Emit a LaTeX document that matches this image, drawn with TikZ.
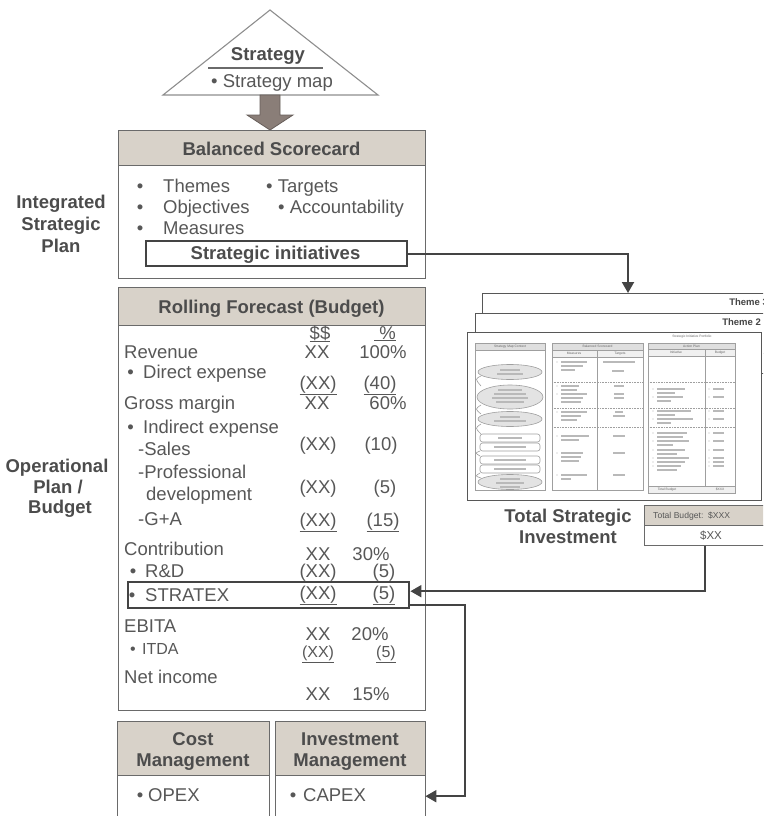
\documentclass[tikz,border=0pt]{standalone}
\usepackage{fontspec}
\setmainfont{Liberation Sans}
\usetikzlibrary{arrows.meta,calc}
\definecolor{tg}{HTML}{575757}
\definecolor{tgb}{HTML}{4C4C4C}
\definecolor{hf}{HTML}{D8D2C9}
\definecolor{bc}{HTML}{6A6A6A}
\definecolor{dk}{HTML}{444444}
\definecolor{ar}{HTML}{8A7E78}
\definecolor{lg}{HTML}{8E8E8E}
\newcommand\txtbar[3]{\draw[tbar] (#1,#2) -- ++(#3,0);}
\begin{document}
\begin{tikzpicture}[x=1pt,y=-1pt,
  t/.style={inner sep=0,text=tg,font=\fontsize{18.5}{21}\selectfont},
  tb/.style={inner sep=0,text=tgb,font=\fontsize{18.5}{21}\selectfont\bfseries},
  ts/.style={inner sep=0,text=tg,font=\fontsize{16}{18}\selectfont},
  box/.style={draw=bc,line width=1.3pt,rectangle,inner sep=0,anchor=north west},
  hbox/.style={box,fill=hf},
  sheet/.style={draw=dk!90,line width=1.3pt,fill=white,rectangle,inner sep=0,anchor=north west},
  thickbox/.style={draw=dk,line width=2.4pt,rectangle,inner sep=0,anchor=north west},
  conn/.style={draw=dk,line width=2pt},
  tip/.style={-{Triangle[length=11pt,width=12pt]}},
  pl/.style={draw=gray!75,line width=0.6pt},
  tiny/.style={inner sep=0,text=gray!80!black,font=\fontsize{3.3}{3.6}\selectfont},
  tbar/.style={draw=gray!55,line width=1.1pt},
]
\useasboundingbox (0,0) rectangle (763,816);
\clip (0,0) rectangle (763,816);

% ---------------- Strategy triangle
\draw[draw=lg,line width=1.1pt,fill=white] (163,95) -- (270,10) -- (378,95) -- cycle;
\coordinate (tribase) at (270,95);
\node[tb,anchor=base] (strat) at (268,60) {Strategy};
\draw[bc,line width=1pt] (208,68) -- (323,68);
\node[t,anchor=base] (smap) at (272,87) {• Strategy map};
\draw[fill=ar,draw=ar!75!black,line width=0.8pt]
  (260,95) -- (280,95) -- (280,115) -- (293,115) -- (270,130) -- (247,115) -- (260,115) -- cycle;

% ---------------- Balanced Scorecard
\node[box,minimum width=307,minimum height=148] (bsc) at (118,130) {};
\node[hbox,minimum width=307,minimum height=35] (bsch) at (118,130) {};
\node[tb,anchor=base] at (271.5,155) {Balanced Scorecard};
\node[t,anchor=base] at (140,192) {•};
\node[t,anchor=base west] at (163,192) {Themes};
\node[t,anchor=base] at (140,213) {•};
\node[t,anchor=base west] at (163,213) {Objectives};
\node[t,anchor=base] at (140,234) {•};
\node[t,anchor=base west] at (163,234) {Measures};
\node[t,anchor=base west] at (266,192) {• Targets};
\node[t,anchor=base west] at (278,213) {• Accountability};
\node[thickbox,minimum width=261,minimum height=25] (si) at (145,240) {};
\node[tb,anchor=base] at (275.5,259) {Strategic initiatives};

\node[tb,anchor=base] at (61,208) {Integrated};
\node[tb,anchor=base] at (61,230) {Strategic};
\node[tb,anchor=base] at (61,252) {Plan};

% ---------------- Rolling Forecast
\node[box,minimum width=307,minimum height=423] (rf) at (118,287) {};
\node[hbox,minimum width=307,minimum height=38] (rfh) at (118,287) {};
\node[tb,anchor=base] at (271.5,313) {Rolling Forecast (Budget)};

\node[tb,anchor=base] at (57,472) {Operational};
\node[tb,anchor=base] at (58,493) {Plan /};
\node[tb,anchor=base] at (60,513) {Budget};

\node[t,anchor=base] at (320,339) {\underline{\$\$}};
\node[t,anchor=base] at (385,339) {\underline{\ \%}};

\node[t,anchor=base west] at (124,358) {Revenue};
\node[t,anchor=base] at (317,358) {XX};
\node[t,anchor=base] at (383,358) {100\%};

\node[t,anchor=base] at (130.5,378) {•};
\node[t,anchor=base west] at (143,378) {Direct expense};
\node[t,anchor=base] at (318,389) {\underline{(XX)}};
\node[t,anchor=base] at (380,389) {\underline{(40)}};

\node[t,anchor=base west] at (124,409) {Gross margin};
\node[t,anchor=base] at (317,409) {XX};
\node[t,anchor=base] at (388,409) {60\%};

\node[t,anchor=base] at (130.5,433) {•};
\node[t,anchor=base west] at (143,433) {Indirect expense};
\node[t,anchor=base west] at (138,455) {-Sales};
\node[t,anchor=base] at (318,450) {(XX)};
\node[t,anchor=base] at (381,450) {(10)};

\node[t,anchor=base west] at (138,478) {-Professional};
\node[t,anchor=base west] at (146,500) {development};
\node[t,anchor=base] at (318,493) {(XX)};
\node[t,anchor=base] at (385,493) {(5)};

\node[t,anchor=base west] at (138,525) {-G+A};
\node[t,anchor=base] at (318,526) {\underline{(XX)}};
\node[t,anchor=base] at (383,526) {\underline{(15)}};

\node[t,anchor=base west] at (124,555) {Contribution};
\node[t,anchor=base] at (318,560) {XX};
\node[t,anchor=base] at (371,560) {30\%};

\node[t,anchor=base] at (133,577) {•};
\node[t,anchor=base west] at (145,577) {R\&D};
\node[t,anchor=base] at (318,577) {(XX)};
\node[t,anchor=base] at (384,577) {(5)};

\node[thickbox,minimum width=281,minimum height=26] (sbox) at (127,581) {};
\node[t,anchor=base] at (132,601) {•};
\node[t,anchor=base west] at (145,601) {STRATEX};
\node[t,anchor=base] at (318,599) {\underline{(XX)}};
\node[t,anchor=base] at (384,599) {\underline{(5)}};

\node[t,anchor=base west] at (124,632) {EBITA};
\node[t,anchor=base] at (318,640) {XX};
\node[t,anchor=base] at (370,640) {20\%};

\node[ts,anchor=base] at (133,654) {•};
\node[ts,anchor=base west] at (142,654) {ITDA};
\node[ts,anchor=base] at (318,657) {\underline{(XX)}};
\node[ts,anchor=base] at (386,657) {\underline{(5)}};

\node[t,anchor=base west] at (124,683) {Net income};
\node[t,anchor=base] at (318,700) {XX};
\node[t,anchor=base] at (371,700) {15\%};

% ---------------- Cost / Investment management
\node[box,minimum width=152,minimum height=120] (cm) at (117,721) {};
\node[hbox,minimum width=152,minimum height=54] (cmh) at (117,721) {};
\node[tb,anchor=base] at (193,745) {Cost};
\node[tb,anchor=base] at (193,766) {Management};
\node[t,anchor=base] at (140,801) {•};
\node[t,anchor=base west] at (148,801) {OPEX};

\node[box,minimum width=150,minimum height=120] (im) at (275,721) {};
\node[hbox,minimum width=150,minimum height=54] (imh) at (275,721) {};
\node[tb,anchor=base] at (350,745) {Investment};
\node[tb,anchor=base] at (350,766) {Management};
\node[t,anchor=base] at (293,801) {•};
\node[t,anchor=base west] at (303,801) {CAPEX};
\node[inner sep=0,minimum width=150,minimum height=42,anchor=north west] (invb) at (275,775) {};

% ---------------- Theme sheets
\node[sheet,minimum width=330,minimum height=60] (th3) at (482,293) {};
\node[inner sep=0,text=dk,font=\fontsize{9.5}{10}\selectfont\bfseries,anchor=base east] at (768,305) {Theme 3};
\node[sheet,minimum width=330,minimum height=60] (th2) at (475,313) {};
\node[inner sep=0,text=dk,font=\fontsize{9.5}{10}\selectfont\bfseries,anchor=base east] at (761,325) {Theme 2};
\node[sheet,minimum width=294,minimum height=168] (th1) at (467,332) {};

% panel 1: strategy map context
\draw[pl] (475,343) rectangle (545,490);
\draw[pl,fill=gray!25] (475,343) rectangle (545,350);
\node[tiny] at (510,346.5) {Strategy Map Context};
\draw[pl,fill=gray!22] (510,372) ellipse [x radius=32,y radius=7.5];
\txtbar{500}{370}{20}\txtbar{497}{374}{26}
\draw[pl,fill=gray!22] (510,397) ellipse [x radius=33,y radius=12];
\txtbar{498}{390}{24}\txtbar{494}{394}{32}\txtbar{492}{398}{36}\txtbar{496}{402}{28}
\draw[pl,fill=gray!22] (510,419) ellipse [x radius=32,y radius=7.5];
\txtbar{500}{417}{20}\txtbar{494}{421}{32}
\draw[pl,rounded corners=2.5] (480,434) rectangle (540,442);
\txtbar{498}{438}{24}
\draw[pl,rounded corners=2.5] (480,443) rectangle (540,451);
\txtbar{494}{447}{32}
\draw[pl,rounded corners=2.5] (480,456) rectangle (540,464);
\txtbar{494}{460}{32}
\draw[pl,rounded corners=2.5] (480,465) rectangle (540,473);
\txtbar{494}{469}{32}
\draw[pl,fill=gray!22] (510,482) ellipse [x radius=32,y radius=7.5];
\txtbar{500}{479}{20}\txtbar{496}{483}{28}\txtbar{500}{487}{20}
\draw[pl] (481,376) .. controls (475,379) .. (481,386);
\draw[pl] (481,405) .. controls (475,409) .. (481,414);
\draw[pl] (481,424) .. controls (475,428) .. (481,434);
\draw[pl] (480,451) .. controls (475,453) .. (480,456);
\draw[pl] (480,473) .. controls (475,476) .. (481,478);

% panel 2: balanced scorecard
\draw[pl] (552,343) rectangle (643,490);
\draw[pl,fill=gray!25] (552,343) rectangle (643,350);
\node[tiny] at (597.5,346.5) {Balanced Scorecard};
\draw[pl,fill=gray!12] (552,350) rectangle (643,357);
\node[tiny] at (574,353.5) {Measures};
\node[tiny] at (620,353.5) {Targets};
\draw[pl] (597,350) -- (597,490);
\draw[pl,densely dotted] (552,382) -- (643,382);
\draw[pl,densely dotted] (552,408) -- (643,408);
\draw[pl,densely dotted] (552,427) -- (643,427);
\foreach \y in {362,386,394,412,436,453,475} {\fill[gray!60] (557,\y) circle (0.7);}
\foreach \y/\l in {362/26,366/22,370/14,386/18,390/16,394/26,398/22,402/20,412/26,416/20,420/16,436/28,440/18,453/22,457/20,461/18,475/26,479/10}
  {\txtbar{561}{\y}{\l}}
\txtbar{603}{362}{32}\txtbar{612}{371}{12}
\txtbar{614}{386}{10}\txtbar{614}{394}{10}\txtbar{614}{398}{10}
\txtbar{615}{412}{8}\txtbar{613}{416}{12}
\txtbar{613}{436}{12}\txtbar{613}{453}{12}\txtbar{613}{475}{12}

% panel 3: strategic initiative portfolio
\node[tiny] at (692,337) {Strategic Initiative Portfolio};
\draw[pl] (648,343) rectangle (735,493);
\draw[pl,fill=gray!25] (648,343) rectangle (735,349);
\node[tiny] at (691.5,346) {Action Plan};
\draw[pl,fill=gray!12] (648,349) rectangle (735,356);
\node[tiny] at (676,352.5) {Initiative};
\draw[pl] (705,349) -- (705,493);
\node[tiny] at (720,352.5) {Budget};
\draw[pl,densely dotted] (648,382) -- (735,382);
\draw[pl,densely dotted] (648,408) -- (735,408);
\draw[pl,densely dotted] (648,427) -- (735,427);
\draw[pl,fill=gray!12] (648,486) rectangle (735,493);
\node[tiny] at (667,489.5) {Total Budget};
\node[tiny] at (720,489.5) {\$XXX};
\foreach \y in {389,397,411,419,433,441,450,458,462,466} {\fill[gray!60] (653,\y) circle (0.7); \fill[gray!60] (709,\y) circle (0.7);}
\foreach \y/\l in {389/28,393/18,397/26,401/14,411/34,415/18,419/36,423/14,433/30,437/26,441/32,445/16,450/28,454/20,458/32,462/28,466/24,470/20}
  {\txtbar{657}{\y}{\l}}
\foreach \y in {389,397,411,419,433,441,450,458,462,466} {\txtbar{713}{\y}{11}}

% ---------------- Total strategic investment
\node[tb,anchor=base] at (568,522) {Total Strategic};
\node[tb,anchor=base] at (568,543) {Investment};
\node[box,fill=hf,minimum width=140,minimum height=20] (tbud) at (644,505) {};
\node[inner sep=0,text=tg,font=\fontsize{8.6}{9}\selectfont,anchor=base west] at (653,518) {Total Budget:\ \ \$XXX};
\node[box,fill=white,minimum width=140,minimum height=20] (sx) at (644,525) {};
\node[inner sep=0,text=tg,font=\fontsize{11.5}{12}\selectfont,anchor=base] at (711,539) {\$XX};

% ---------------- Connectors
\draw[conn,tip] (si.east) -| ($(th3.north west)+(146,0)$);
\draw[conn,tip] ($(sx.south west)+(61,0)$) |- ($(sbox.east)+(0,-4)$);
\draw[conn,tip] ($(sbox.east)+(0,10)$) -- ++(55,0) |- (invb.east);
\end{tikzpicture}
\end{document}
